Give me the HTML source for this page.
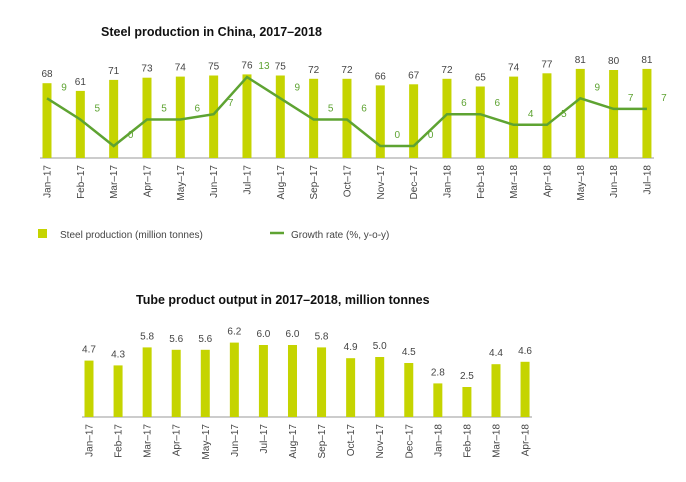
<!DOCTYPE html>
<html><head><meta charset="utf-8"><style>
body{margin:0;background:#fff;width:686px;height:477px;overflow:hidden}
svg{font-family:"Liberation Sans",sans-serif}
</style></head><body>
<svg id="s" width="686" height="477">
<text x="101" y="36" font-size="12.5" font-weight="bold" fill="#111">Steel production in China, 2017–2018</text>
<text x="136" y="304" font-size="12.5" font-weight="bold" fill="#111">Tube product output in 2017–2018, million tonnes</text>
<g>
<rect x="38" y="229" width="9" height="9" fill="#c5d400"/>
<text x="60" y="238" font-size="10" fill="#444">Steel production (million tonnes)</text>
<line x1="270" y1="233" x2="284" y2="233" stroke="#5ea332" stroke-width="2.5"/>
<text x="291" y="238" font-size="10" fill="#444">Growth rate (%, y-o-y)</text>
</g>
</svg>
<script>
const months1=["Jan–17","Feb–17","Mar–17","Apr–17","May–17","Jun–17","Jul–17","Aug–17","Sep–17","Oct–17","Nov–17","Dec–17","Jan–18","Feb–18","Mar–18","Apr–18","May–18","Jun–18","Jul–18"];
const steel=[68,61,71,73,74,75,76,75,72,72,66,67,72,65,74,77,81,80,81];
const growth=[9,5,0,5,5,6,13,9,5,5,0,0,6,6,4,4,9,7,7];
const growthLabels=["9","5","0","5","6","7","13","9","5","6","0","0","6","6","4","5","9","7","7"];
const months2=["Jan–17","Feb–17","Mar–17","Apr–17","May–17","Jun–17","Jul–17","Aug–17","Sep–17","Oct–17","Nov–17","Dec–17","Jan–18","Feb–18","Mar–18","Apr–18"];
const tube=[4.7,4.3,5.8,5.6,5.6,6.2,6.0,6.0,5.8,4.9,5.0,4.5,2.8,2.5,4.4,4.6];
const NS="http://www.w3.org/2000/svg",svg=document.getElementById('s');
function mk(t,a,txt){const e=document.createElementNS(NS,t);for(const k in a)e.setAttribute(k,a[k]);if(txt!==undefined)e.textContent=txt;svg.appendChild(e);return e;}
// chart 1
const x1=i=>47+i*33.33, base1=158, yb1=v=>base1-v*1.1, yl1=v=>146-v*5.3;
let ax=mk('line',{x1:40,y1:base1,x2:654,y2:base1,stroke:'#999','stroke-width':1});


steel.forEach((v,i)=>{
 const r=mk('rect',{x:x1(i)-4.5,y:yb1(v),width:9,height:base1-yb1(v),fill:'#c5d400'});
 
 
 const t=mk('text',{x:x1(i),y:yb1(v)-6,'font-size':10,'text-anchor':'middle',fill:'#444'},String(v));
 
 
 const m=mk('text',{transform:`translate(${x1(i)+3.5},165) rotate(-90)`,'font-size':10,'text-anchor':'end',fill:'#444'},months1[i]);
 
 
});
const pl=mk('polyline',{points:growth.map((v,i)=>x1(i)+','+yl1(v)).join(' '),fill:'none',stroke:'#5ea332','stroke-width':2.5});


growth.forEach((v,i)=>{
 const t=mk('text',{x:x1(i)+17,y:yl1(v)-8,'font-size':10,'text-anchor':'middle',fill:'#5ea332'},growthLabels[i]);
 
 
});
// chart 2
const x2=i=>89+i*29.07, base2=417, y2=v=>base2-v*12;
let ax2=mk('line',{x1:82,y1:base2,x2:532,y2:base2,stroke:'#999','stroke-width':1});


tube.forEach((v,i)=>{
 const r=mk('rect',{x:x2(i)-4.5,y:y2(v),width:9,height:base2-y2(v),fill:'#c5d400'});
 
 
 const t=mk('text',{x:x2(i),y:y2(v)-8,'font-size':10,'text-anchor':'middle',fill:'#444'},v.toFixed(1));
 
 
 const m=mk('text',{transform:`translate(${x2(i)+3.5},424) rotate(-90)`,'font-size':10,'text-anchor':'end',fill:'#444'},months2[i]);
 
 
});
</script>
</body></html>
